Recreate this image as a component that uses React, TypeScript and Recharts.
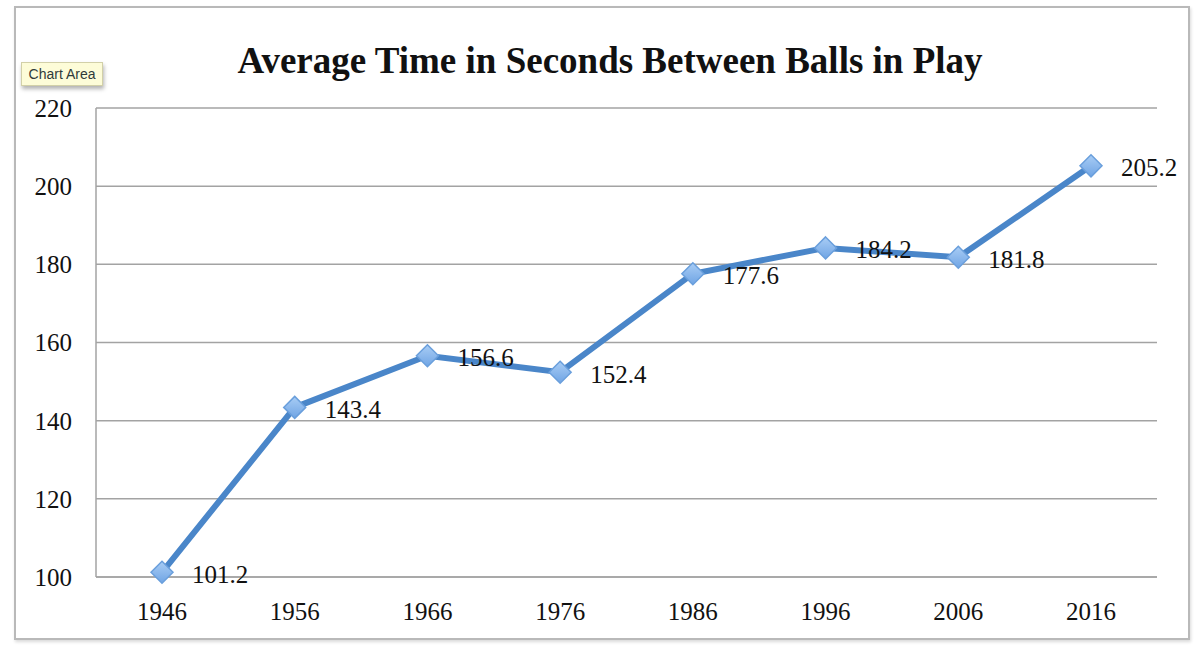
import { LineChart, Line, XAxis, YAxis, CartesianGrid, LabelList } from 'recharts';

// Years on the category axis
const years = ['1946', '1956', '1966', '1976', '1986', '1996', '2006', '2016'];
// Average seconds between balls in play
const seconds = [101.2, 143.4, 156.6, 152.4, 177.6, 184.2, 181.8, 205.2];
// Y axis ticks
const yTicks = [100, 120, 140, 160, 180, 200, 220];

const data = years.map((year, i) => ({ year, value: seconds[i] }));

const SERIF = '"Liberation Serif", "DejaVu Serif", serif';

/**
 * Diamond marker like the Excel default
 */
function Diamond(props: any) {
  const { cx, cy, index } = props;
  if (cx == null || cy == null) return null;
  const r = 11;
  return (
    <g key={`d-${index}`}>
      <path
        d={`M${cx},${cy - r} L${cx + r},${cy} L${cx},${cy + r} L${cx - r},${cy} Z`}
        fill="url(#diamondFill)"
        stroke="#6a9fdc"
        strokeWidth={1.5}
      />
    </g>
  );
}

/**
 * Value label to the right of each point
 */
function ValueLabel(props: any) {
  const { x, y, value } = props;
  return (
    <text
      x={x + 30}
      y={y + 2}
      fill="#111"
      fontSize={25}
      fontFamily={SERIF}
      dominantBaseline="central"
    >
      {value.toFixed(1)}
    </text>
  );
}

export default function App() {
  return (
    <div
      style={{
        position: 'absolute',
        top: 0,
        left: 0,
        width: 1200,
        height: 653,
        background: '#fff',
        overflow: 'hidden',
      }}
    >
      {/* chart frame */}
      <div
        style={{
          position: 'absolute',
          left: 14,
          top: 6,
          width: 1172,
          height: 630,
          border: '2px solid #b9b9b9',
          boxShadow: '1px 2px 3px rgba(0,0,0,0.15)',
        }}
      />
      {/* title */}
      <div
        style={{
          position: 'absolute',
          left: 10,
          top: 42,
          width: 1200,
          textAlign: 'center',
          fontFamily: SERIF,
          fontWeight: 'bold',
          fontSize: 37,
          lineHeight: '37px',
          color: '#111',
        }}
      >
        Average Time in Seconds Between Balls in Play
      </div>
      {/* hover tag */}
      <div
        style={{
          position: 'absolute',
          left: 21,
          top: 62,
          width: 80,
          height: 22,
          background: '#fdfcd8',
          border: '1px solid #d2d0a8',
          boxShadow: '1px 3px 4px rgba(0,0,0,0.3)',
          fontFamily: '"Liberation Sans", Arial, sans-serif',
          fontSize: 14,
          lineHeight: '22px',
          textAlign: 'center',
          color: '#2f3a3a',
        }}
      >
        Chart Area
      </div>
      <div style={{ position: 'absolute', top: 0, left: 0 }}>
        <LineChart
          width={1200}
          height={653}
          data={data}
          margin={{ top: 108, right: 43, bottom: 26, left: 0 }}
        >
          <defs>
            <linearGradient id="diamondFill" x1="0" y1="0" x2="0" y2="1">
              <stop offset="0%" stopColor="#a9cdf5" />
              <stop offset="100%" stopColor="#6fa4e4" />
            </linearGradient>
          </defs>
          <CartesianGrid vertical={false} stroke="#a3a3a3" strokeWidth={1.5} />
          <XAxis
            dataKey="year"
            height={50}
            padding={{ left: 66, right: 66 }}
            tickLine={false}
            tickSize={0}
            tickMargin={25}
            axisLine={{ stroke: '#a3a3a3', strokeWidth: 1.5 }}
            tick={{ fill: '#111', fontSize: 25, fontFamily: SERIF }}
          />
          <YAxis
            width={96}
            domain={[100, 220]}
            ticks={yTicks}
            interval={0}
            tickLine={false}
            tickSize={0}
            tickMargin={24}
            axisLine={{ stroke: '#a3a3a3', strokeWidth: 1.5 }}
            tick={{ fill: '#111', fontSize: 25, fontFamily: SERIF }}
          />
          <Line
            type="linear"
            dataKey="value"
            stroke="#4a86c9"
            strokeWidth={6}
            dot={<Diamond />}
            activeDot={false}
            isAnimationActive={false}
          >
            <LabelList dataKey="value" content={<ValueLabel />} />
          </Line>
        </LineChart>
      </div>
    </div>
  );
}
